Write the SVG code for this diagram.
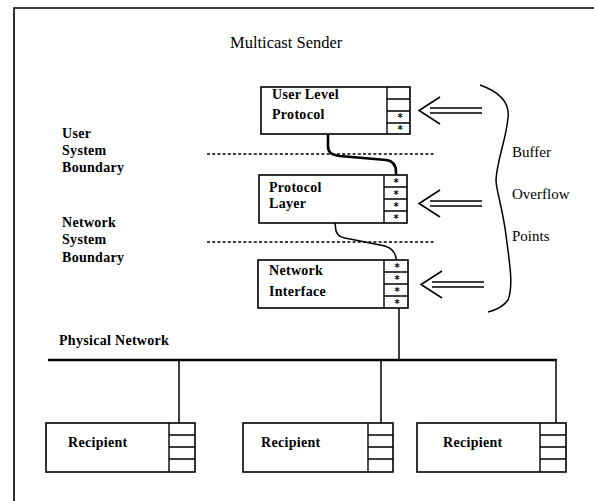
<svg xmlns="http://www.w3.org/2000/svg" width="594" height="501" viewBox="0 0 594 501">
  <style>
    .frame { fill: none; stroke: #000; stroke-width: 1.6; }
    .box { fill: #fff; stroke: #000; stroke-width: 1.6; }
    .cell { fill: none; stroke: #000; stroke-width: 1.4; }
    .lbl { font-family: "Liberation Serif", "Times New Roman", serif; font-size: 14px; font-weight: bold; letter-spacing: 0.3px; fill: #000; }
    .reg { font-family: "Liberation Serif", "Times New Roman", serif; font-size: 15px; fill: #000; }
    .title { font-family: "Liberation Serif", "Times New Roman", serif; font-size: 16.5px; fill: #000; }
    .star { font-family: "DejaVu Sans", sans-serif; font-size: 10px; font-weight: bold; fill: #000; text-anchor: middle; }
    .dots { fill: none; stroke: #000; stroke-width: 1.4; stroke-dasharray: 3 2.2; }
    .wire { fill: none; stroke: #000; stroke-width: 1.5; }
    .thick { fill: none; stroke: #000; stroke-width: 2.6; }
    .arrow { fill: none; stroke: #000; stroke-width: 1.6; }
  </style>

  <!-- outer frame: top and left edges -->
  <path class="frame" d="M14,501 L14,8 L594,8"/>

  <text class="title" x="230" y="48">Multicast Sender</text>

  <!-- boundary labels -->
  <g id="boundary-labels">
    <text class="lbl" x="62" y="138">User</text>
    <text class="lbl" x="62" y="155">System</text>
    <text class="lbl" x="62" y="172">Boundary</text>
    <text class="lbl" x="62" y="227">Network</text>
    <text class="lbl" x="62" y="244">System</text>
    <text class="lbl" x="62" y="262">Boundary</text>
  </g>

  <!-- dotted system boundaries -->
  <g id="boundaries">
    <line class="dots" x1="207" y1="154" x2="434" y2="154"/>
    <line class="dots" x1="207" y1="242" x2="434" y2="242"/>
  </g>

  <!-- connectors -->
  <g id="connectors">
    <path class="thick" d="M328,134 L328,146 C328,153 332,155 340,156 L386,160 C394,161 396,166 396,172 L396,181"/>
    <path class="wire" d="M335,223 L336,231 C338,237 343,238 350,239 L385,246 C392,248 395,252 396,258 L397,266"/>
    <line class="wire" x1="399" y1="308" x2="399" y2="360"/>
    <line class="thick" x1="48" y1="360" x2="557" y2="360"/>
    <line class="wire" x1="179" y1="360" x2="179" y2="423"/>
    <line class="wire" x1="381" y1="360" x2="381" y2="423"/>
    <line class="wire" x1="556" y1="360" x2="556" y2="425"/>
    <circle cx="186" cy="428" r="2"/>
    <circle cx="554" cy="428" r="2"/>
  </g>

  <!-- sender stack -->
  <g id="user-level-protocol">
    <rect class="box" x="261" y="87" width="149" height="47"/>
    <path class="cell" d="M387,87 V134 M387,99 H410 M387,111 H410 M387,123 H410"/>
    <text class="star" x="400" y="121">*</text>
    <text class="star" x="400" y="133">*</text>
    <text class="lbl" x="272" y="99">User Level</text>
    <text class="lbl" x="272" y="119">Protocol</text>
  </g>

  <g id="protocol-layer">
    <rect class="box" x="259" y="175" width="148" height="48"/>
    <path class="cell" d="M384,175 V223 M384,187 H407 M384,199 H407 M384,211 H407"/>
    <text class="star" x="396" y="186">*</text>
    <text class="star" x="396" y="198">*</text>
    <text class="star" x="396" y="210">*</text>
    <text class="star" x="396" y="222">*</text>
    <text class="lbl" x="269" y="192">Protocol</text>
    <text class="lbl" x="269" y="208">Layer</text>
  </g>

  <g id="network-interface">
    <rect class="box" x="258" y="260" width="150" height="48"/>
    <path class="cell" d="M384,260 V308 M384,272 H408 M384,284 H408 M384,296 H408"/>
    <text class="star" x="397" y="271">*</text>
    <text class="star" x="397" y="283">*</text>
    <text class="star" x="397" y="295">*</text>
    <text class="star" x="397" y="307">*</text>
    <text class="lbl" x="269" y="275">Network</text>
    <text class="lbl" x="269" y="296">Interface</text>
  </g>

  <!-- overflow arrows and brace -->
  <g id="overflow-points">
    <path class="arrow" d="M482,108 H430 M482,113 H430 M440,97 L419,110.5 L440,124"/>
    <path class="arrow" d="M482,201 H430 M482,206 H430 M440,190 L419,203.5 L440,217"/>
    <path class="arrow" d="M484,282 H432 M484,287 H432 M442,271 L421,284.5 L442,298"/>
    <path class="wire" d="M480,85 C500,92 510,102 508,118 C506,140 497,160 496,180 C496,190 502,205 506,235 C509,260 514,285 508,300 C503,307 496,310 488,312"/>
    <text class="reg" x="512" y="157">Buffer</text>
    <text class="reg" x="512" y="199">Overflow</text>
    <text class="reg" x="512" y="241">Points</text>
  </g>

  <text class="lbl" x="59" y="345">Physical Network</text>

  <!-- recipients -->
  <g id="recipient-1">
    <rect class="box" x="46" y="423" width="149" height="49"/>
    <path class="cell" d="M169,423 V472 M169,435 H195 M169,447 H195 M169,459 H195"/>
    <text class="lbl" x="68" y="447">Recipient</text>
  </g>
  <g id="recipient-2">
    <rect class="box" x="243" y="423" width="150" height="49"/>
    <path class="cell" d="M368,423 V472 M368,435 H393 M368,447 H393 M368,459 H393"/>
    <text class="lbl" x="261" y="447">Recipient</text>
  </g>
  <g id="recipient-3">
    <rect class="box" x="417" y="423" width="149" height="49"/>
    <path class="cell" d="M540,423 V472 M540,435 H566 M540,447 H566 M540,459 H566"/>
    <text class="lbl" x="443" y="447">Recipient</text>
  </g>
</svg>
